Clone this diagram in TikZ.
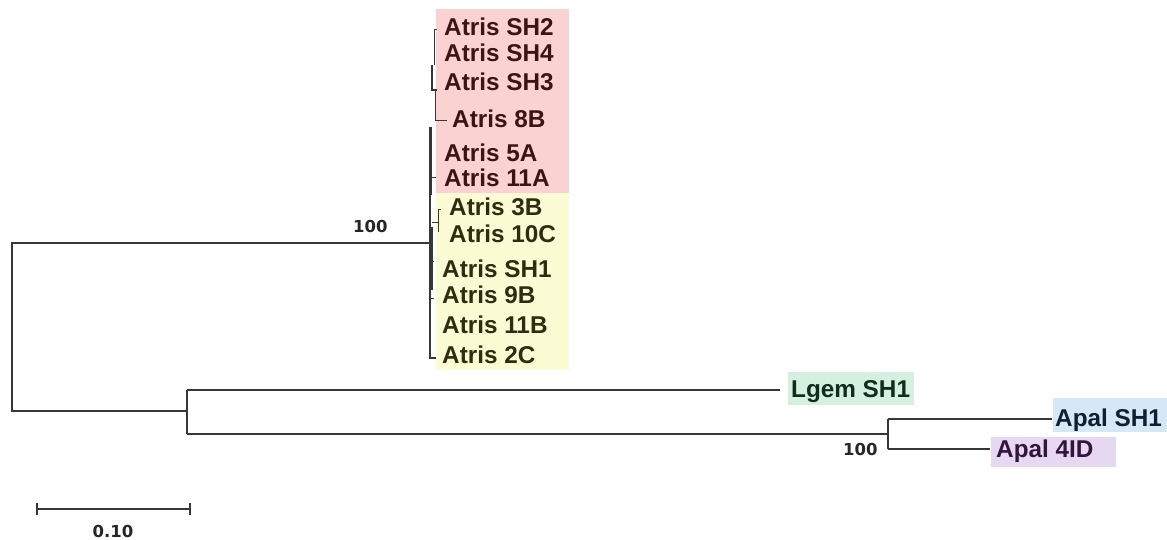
\documentclass[tikz,border=0pt]{standalone}
\usepackage{fontspec}
\setmainfont{Liberation Sans}
\newfontfamily\numfont{DejaVu Sans}
\definecolor{redbg}{RGB}{250,210,210}
\definecolor{yelbg}{RGB}{252,252,212}
\definecolor{grnbg}{RGB}{214,240,224}
\definecolor{blubg}{RGB}{214,231,245}
\definecolor{purbg}{RGB}{230,216,240}
\definecolor{redtx}{RGB}{60,20,20}
\definecolor{yeltx}{RGB}{45,45,15}
\definecolor{grntx}{RGB}{15,45,30}
\definecolor{blutx}{RGB}{15,30,50}
\definecolor{purtx}{RGB}{50,20,60}
\definecolor{branch}{RGB}{55,55,55}
\begin{document}
\begin{tikzpicture}[x=1pt,y=-1pt,
  br/.style={draw=branch,line width=1.4pt},
  thin/.style={draw=branch,line width=1pt},
  taxon/.style={anchor=base west,inner sep=0pt,font=\fontsize{24.3}{24.3}\selectfont\bfseries},
  boot/.style={anchor=base west,inner sep=0pt,font=\numfont\fontsize{16.5}{16.5}\selectfont\bfseries,text=black!85},
  bg/.style={fill=#1,draw=none}]
\useasboundingbox (0,0) rectangle (1167,540);
% background boxes
\path[bg=redbg] (436,9) rectangle (569,193);
\path[bg=yelbg] (436,193) rectangle (569,370);
\path[bg=grnbg] (788,372) rectangle (914,405);
\path[bg=blubg] (1053,398) rectangle (1167,432);
\path[bg=purbg] (991,437) rectangle (1116,467);
% taxa labels
\node[taxon,text=redtx] (sh2) at (444,36) {Atris SH2};
\node[taxon,text=redtx] (sh4) at (444,62) {Atris SH4};
\node[taxon,text=redtx] (sh3) at (444,91) {Atris SH3};
\node[taxon,text=redtx] (b8) at (452,128) {Atris 8B};
\node[taxon,text=redtx] (a5) at (444,162) {Atris 5A};
\node[taxon,text=redtx] (a11) at (444,187) {Atris 11A};
\node[taxon,text=yeltx] (b3) at (449,216) {Atris 3B};
\node[taxon,text=yeltx] (c10) at (449,243) {Atris 10C};
\node[taxon,text=yeltx] (sh1) at (442,277) {Atris SH1};
\node[taxon,text=yeltx] (b9) at (442,303) {Atris 9B};
\node[taxon,text=yeltx] (b11) at (442,333) {Atris 11B};
\node[taxon,text=yeltx] (c2) at (442,363) {Atris 2C};
\node[taxon,text=grntx] (lgem) at (791,397) {Lgem SH1};
\node[taxon,text=blutx] (apsh1) at (1055,426) {Apal SH1};
\node[taxon,text=purtx] (ap4) at (996,457) {Apal 4ID};
% bootstrap values
\node[boot] (bs1) at (353,233) {100};
\node[boot] (bs2) at (843,455) {100};
% tree coordinates
\coordinate (root) at (12,243);
\coordinate (rootb) at (12,411);
\coordinate (ing) at (430,243);
\coordinate (out) at (187,411);
\coordinate (outt) at (187,390);
\coordinate (outb) at (187,434);
\coordinate (apn) at (888,434);
\coordinate (apt) at (888,419);
\coordinate (apb) at (888,449);
\coordinate (lgemend) at (780,390);
\coordinate (apsh1end) at (1052,419);
\coordinate (ap4end) at (990,449);
% main tree
\draw[br] (ing) -- (root) -- (rootb) -- (out);
\draw[br] (outt) -- (outb);
\draw[br] (outt) -- (lgemend);
\draw[br] (outb) -- (apn);
\draw[br] (apt) -- (apb);
\draw[br] (apt) -- (apsh1end);
\draw[br] (apb) -- (ap4end);
% ingroup clumped branches
\draw[br] (430,127) -- (430,358) -- (436,358);
\draw[thin] (434,30) -- (434,65);
\draw[thin] (434,30) -- (437,30);
\draw[br] (432,65) -- (432,90) -- (437,90);
\draw[thin] (435,90) -- (435,121) -- (447,121);
\draw[br] (431,127) -- (431,195);
\draw[thin] (430,178) -- (436,178);
\draw[br] (432,227) -- (432,290);
\draw[thin] (432,223) -- (438,223);
\draw[thin] (438,210) -- (438,232);
\draw[thin] (438,210) -- (441,210);
\draw[thin] (430,261) -- (434,261);
\draw[thin] (430,298) -- (434,298);
% scale bar
\coordinate (sb1) at (37,509);
\coordinate (sb2) at (190,509);
\draw[br] (sb1) -- (sb2);
\draw[br] ([yshift=-6]sb1) -- ([yshift=6]sb1);
\draw[br] ([yshift=-6]sb2) -- ([yshift=6]sb2);
\node[anchor=base,inner sep=0pt,font=\numfont\fontsize{16.5}{16.5}\selectfont\bfseries,text=black!85] (sblab) at (113,537) {0.10};
\end{tikzpicture}
\end{document}
